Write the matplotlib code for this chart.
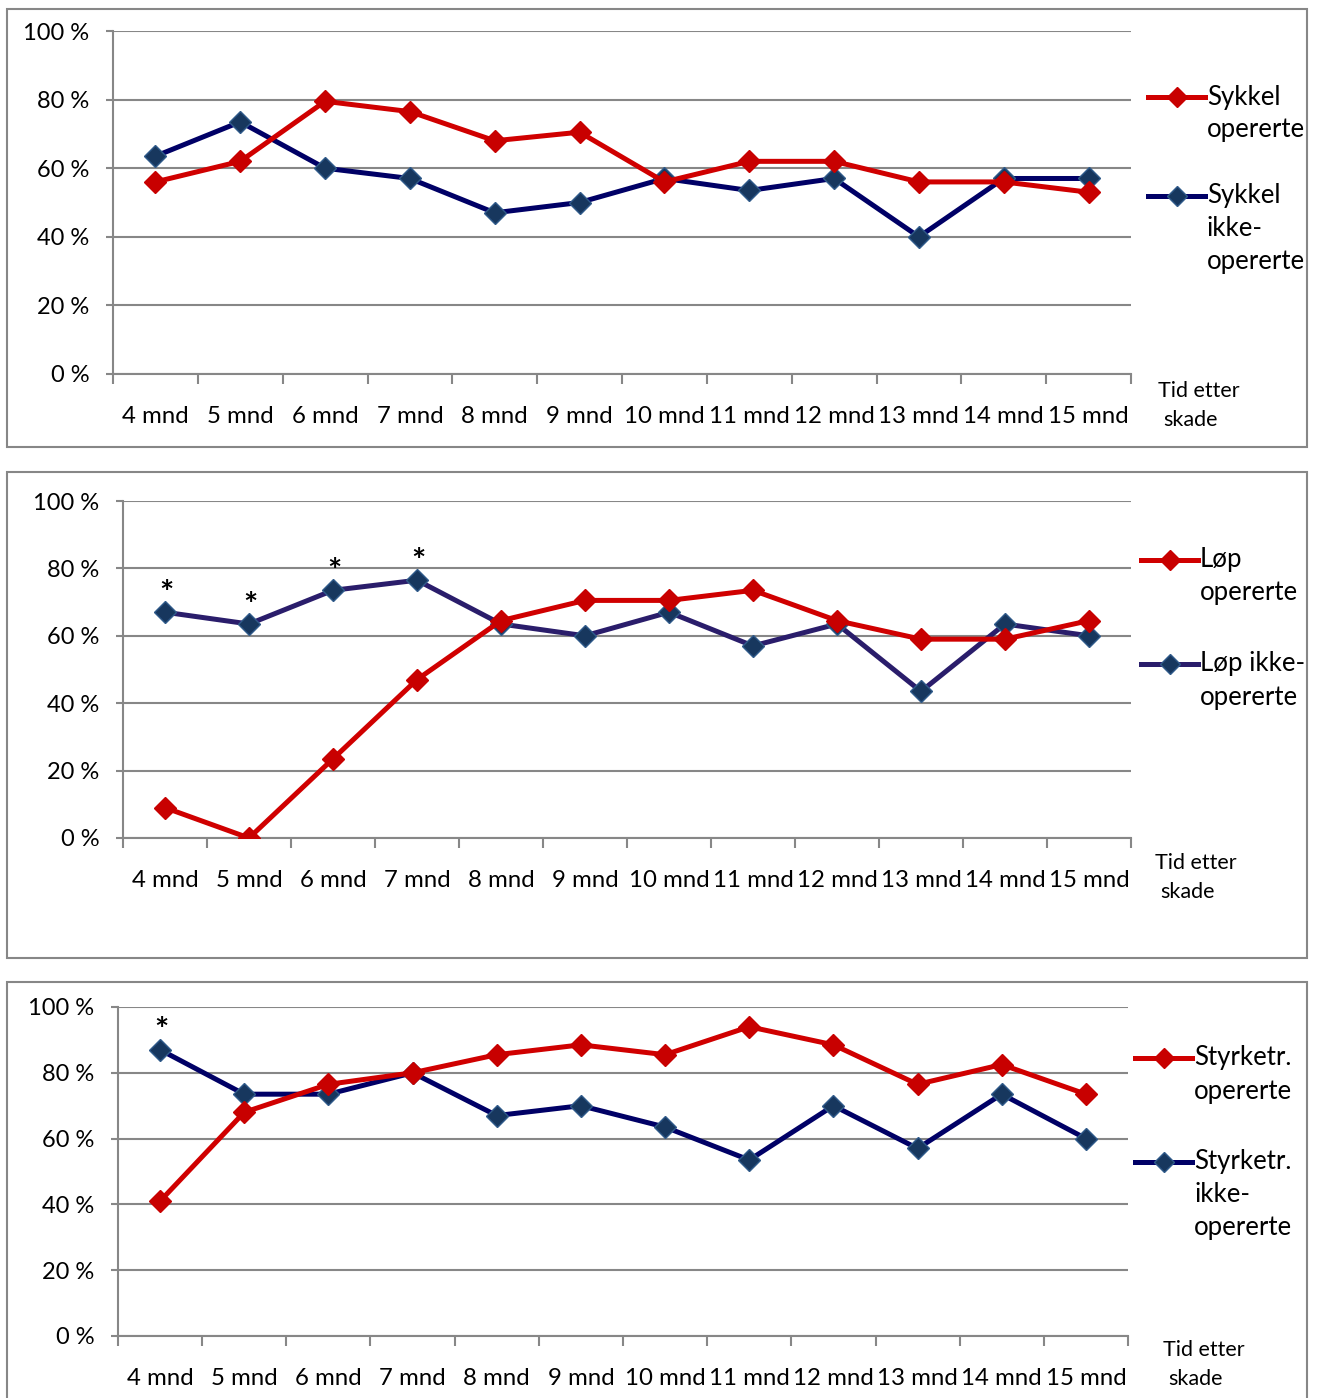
import matplotlib
matplotlib.use('Agg')
import matplotlib.pyplot as plt
from matplotlib.lines import Line2D
from matplotlib.patches import Rectangle

plt.rcParams['font.family'] = ['Lato', 'DejaVu Sans']

months = ['4 mnd', '5 mnd', '6 mnd', '7 mnd', '8 mnd', '9 mnd',
          '10 mnd', '11 mnd', '12 mnd', '13 mnd', '14 mnd', '15 mnd']
y_ticks = [0, 20, 40, 60, 80, 100]
x_title = 'Tid etter\nskade'

# Sykkel
sykkel_op = [56, 62, 79.5, 76.5, 68, 70.5, 56, 62, 62, 56, 56, 53]
sykkel_ikke = [63.5, 73.5, 60, 57, 47, 50, 57, 53.5, 57, 40, 57, 57]
sykkel_labels = ['Sykkel\nopererte', 'Sykkel\nikke-\nopererte']

# Løp
lop_op = [9, 0, 23.5, 47, 64.5, 70.5, 70.5, 73.5, 64.5, 59, 59, 64.5]
lop_ikke = [67, 63.5, 73.5, 76.5, 63.5, 60, 67, 57, 63.5, 43.5, 63.5, 60]
lop_labels = ['Løp\nopererte', 'Løp ikke-\nopererte']
lop_stars = [True, True, True, True, False, False, False, False, False, False, False, False]

# Styrketrening
styrke_op = [41, 68, 76.5, 80, 85.5, 88.5, 85.5, 94, 88.5, 76.5, 82.5, 73.5]
styrke_ikke = [87, 73.5, 73.5, 80, 67, 70, 63.5, 53.5, 70, 57, 73.5, 60]
styrke_labels = ['Styrketr.\nopererte', 'Styrketr.\nikke-\nopererte']
styrke_stars = [True] + [False] * 11

W, H = 1319, 1398
fig = plt.figure(figsize=(W / 100, H / 100), dpi=100)

RED = '#d00000'
RED_M = '#c80000'
NAVY = '#000066'
PURPLE = '#2a1d6b'
M_FILL = '#17375e'
M_EDGE = '#2f5a8a'
GRID = '#878787'


def fx(px):
    return px / W


def fy(py):
    return 1 - py / H


panels = [
    dict(box=(7, 9, 1307, 447), area=(113, 31, 1131, 374),
         op=sykkel_op, ikke=sykkel_ikke, labels=sykkel_labels, stars=None,
         blue=NAVY, leg_x=1148, leg_y=(97, 196), title_xy=(1158, 391)),
    dict(box=(7, 472, 1307, 958), area=(123, 501, 1131, 838),
         op=lop_op, ikke=lop_ikke, labels=lop_labels, stars=lop_stars,
         blue=PURPLE, leg_x=1141, leg_y=(560, 664), title_xy=(1155, 863)),
    dict(box=(7, 982, 1307, 1420), area=(118, 1007, 1128, 1336),
         op=styrke_op, ikke=styrke_ikke, labels=styrke_labels, stars=styrke_stars,
         blue=NAVY, leg_x=1135, leg_y=(1058, 1162), title_xy=(1163, 1350)),
]

for p in panels:
    bx0, by0, bx1, by1 = p['box']
    fig.add_artist(Rectangle((fx(bx0), fy(by1)), fx(bx1 - bx0), (by1 - by0) / H,
                             transform=fig.transFigure, fill=False,
                             edgecolor=GRID, lw=1.5))

    x0, y0, x1, y1 = p['area']
    ax = fig.add_axes([fx(x0), fy(y1), fx(x1 - x0), (y1 - y0) / H])
    x = list(range(len(months)))

    ax.plot(x, p['ikke'], color=p['blue'], lw=3.6, marker='D', ms=11,
            markerfacecolor=M_FILL, markeredgecolor=M_EDGE, markeredgewidth=1,
            zorder=3)
    ax.plot(x, p['op'], color=RED, lw=3.6, marker='D', ms=11,
            markerfacecolor=RED_M, markeredgecolor=RED_M, zorder=4)

    if p['stars']:
        for i, s in enumerate(p['stars']):
            if s:
                ax.annotate('*', (x[i], p['ikke'][i]), xytext=(1, 6),
                            textcoords='offset points', ha='center',
                            va='baseline', fontsize=24, fontweight='bold')

    ax.set_xlim(-0.5, len(months) - 0.5)
    ax.set_ylim(0, 100)
    ax.set_yticks(y_ticks)
    ax.set_yticklabels([f'{v} %' for v in y_ticks])
    ax.set_xticks(x)
    ax.set_xticklabels(months)
    ax.set_xticks([i - 0.5 for i in range(len(months) + 1)], minor=True)
    ax.tick_params(axis='x', which='major', length=0, pad=23, labelsize=17.3)
    ax.tick_params(axis='x', which='minor', length=7, width=1.5,
                   color=GRID, direction='out')
    ax.tick_params(axis='y', length=5, width=1.5, color=GRID, pad=12,
                   labelsize=17)
    ax.grid(axis='y', color=GRID, lw=1.5)
    ax.set_axisbelow(True)
    for side in ['top', 'right']:
        ax.spines[side].set_visible(False)
    for side in ['left', 'bottom']:
        ax.spines[side].set_color(GRID)
        ax.spines[side].set_linewidth(1.5)

    # legend
    lx = p['leg_x']
    series = [(RED, RED_M, RED_M), (p['blue'], M_FILL, M_EDGE)]
    for (lc, mf, me), label, ly in zip(series, p['labels'], p['leg_y']):
        fig.add_artist(Line2D([fx(lx), fx(lx + 57)], [fy(ly), fy(ly)],
                              transform=fig.transFigure, color=lc, lw=3.6))
        fig.add_artist(Line2D([fx(lx + 28.5)], [fy(ly)], transform=fig.transFigure,
                              marker='D', ms=10, markerfacecolor=mf,
                              markeredgecolor=me, markeredgewidth=1))
        for k, line in enumerate(label.split('\n')):
            fig.text(fx(lx + 59), fy(ly + 33 * k), line, fontsize=18.5,
                     ha='left', va='center')

    # axis title, one line at a time
    tx, ty = p['title_xy']
    for k, line in enumerate(x_title.split('\n')):
        fig.text(fx(tx + 5 * k), fy(ty + 29 * k), line, fontsize=15.5,
                 ha='left', va='center')

fig.savefig('out.png', dpi=100, facecolor='white')
